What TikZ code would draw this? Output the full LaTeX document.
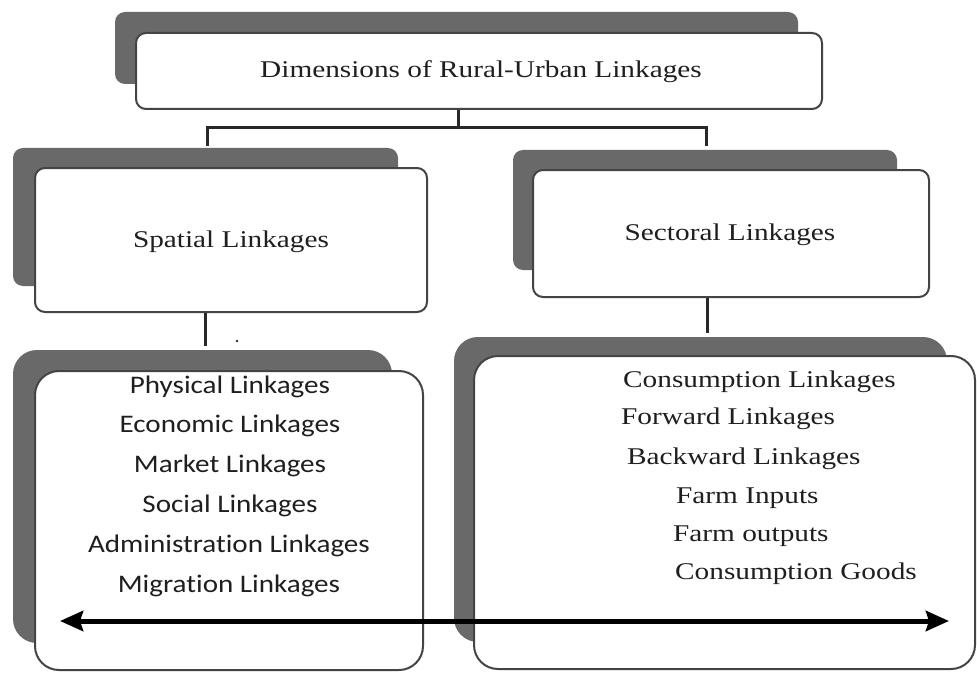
\documentclass[tikz,border=0pt]{standalone}
\usepackage{fontspec}
\setmainfont{Liberation Serif}
\newfontfamily\calfont[Ligatures=NoCommon]{Carlito}
\usepackage{graphicx}
\usetikzlibrary{arrows.meta,fit}
\definecolor{shadowgray}{RGB}{105,105,105}
\definecolor{edgegray}{RGB}{68,68,68}
\definecolor{linegray}{RGB}{40,40,40}
\newcommand{\wserif}[1]{\scalebox{1.22}[1]{\fontsize{24}{28}\selectfont #1}}
\newcommand{\wsans}[1]{\scalebox{1.15}[1]{\calfont\fontsize{25.3}{30}\selectfont #1}}
\begin{document}
\begin{tikzpicture}[x=1pt,y=-1pt,
  shadowbox/.style={fill=shadowgray, draw=none, rounded corners=#1, inner sep=0pt},
  shadowbox/.default=10pt,
  frontbox/.style={fill=white, draw=edgegray, line width=2pt, rounded corners=#1, inner sep=0pt},
  frontbox/.default=10pt,
  conn/.style={draw=linegray, line width=3pt},
  sertxt/.style={inner sep=0pt, text=black!88},
  santxt/.style={inner sep=0pt, text=black!88},
  bigarrow/.style={line width=5pt, draw=black, {Stealth[length=23pt,width=20pt,inset=3pt]}-{Stealth[length=23pt,width=20pt,inset=3pt]}}]
\path[use as bounding box, fill=white] (0,0) rectangle (977,674);

% top box
\node[shadowbox, fit={(115,12) (798,84)}] (topsh) {};
\node[frontbox, fit={(136,33) (822,109)}] (top) {};
\node[sertxt, anchor=base] (toptxt) at (481,78) {\wserif{Dimensions of Rural-Urban Linkages}};

% spatial
\node[shadowbox, fit={(13,148) (398,286)}] (spatsh) {};
\node[frontbox, fit={(35,168) (427,312)}] (spat) {};
\node[sertxt, anchor=base] (spattxt) at (231,247) {\wserif{Spatial Linkages}};

% sectoral
\node[shadowbox, fit={(513,150) (897,270)}] (sectsh) {};
\node[frontbox, fit={(533,170) (929,297)}] (sect) {};
\node[sertxt, anchor=base] (secttxt) at (730,240) {\wserif{Sectoral Linkages}};

% lower left
\node[shadowbox=24pt, fit={(13,350) (392,643)}] (lowlsh) {};
\node[frontbox=24pt, fit={(35,371) (423,670)}] (lowl) {};
% lower right
\node[shadowbox=24pt, fit={(454,337) (947,642)}] (lowrsh) {};
\node[frontbox=24pt, fit={(474,356) (975,669)}] (lowr) {};

% connectors
\coordinate (jt) at (458,128);
\coordinate (jl) at (207,128);
\coordinate (jr) at (706,128);
\draw[conn] (top.south -| jt) -- (jt);
\draw[conn, line cap=rect] (jl) -- (jr);
\draw[conn] (jl) -- (jl |- 0,146);
\draw[conn] (jr) -- (jr |- 0,146);
\coordinate (cl) at (205,346);
\coordinate (cr) at (707,333);
\draw[conn] (spat.south -| cl) -- (cl);
\draw[conn] (sect.south -| cr) -- (cr);
\fill[linegray] (237,341) circle (1.4pt);

% lower left texts
\node[santxt, anchor=base] (l1) at (230,393) {\wsans{Physical Linkages}};
\node[santxt, anchor=base] (l2) at (230,432) {\wsans{Economic Linkages}};
\node[santxt, anchor=base] (l3) at (230,472) {\wsans{Market Linkages}};
\node[santxt, anchor=base] (l4) at (230,512) {\wsans{Social Linkages}};
\node[santxt, anchor=base] (l5) at (229,552) {\wsans{Administration Linkages}};
\node[santxt, anchor=base] (l6) at (229,592) {\wsans{Migration Linkages}};

% lower right texts
\node[sertxt, anchor=base west] (r1) at (623,387) {\wserif{Consumption Linkages}};
\node[sertxt, anchor=base west] (r2) at (621,424) {\wserif{Forward Linkages}};
\node[sertxt, anchor=base west] (r3) at (627,464) {\wserif{Backward Linkages}};
\node[sertxt, anchor=base west] (r4) at (676,503) {\wserif{Farm Inputs}};
\node[sertxt, anchor=base west] (r5) at (673,541) {\wserif{Farm outputs}};
\node[sertxt, anchor=base west] (r6) at (675,579) {\wserif{Consumption Goods}};

% double arrow
\coordinate (al) at (60,621);
\coordinate (ar) at (949,621);
\draw[bigarrow] (al) -- (ar);
\end{tikzpicture}
\end{document}
